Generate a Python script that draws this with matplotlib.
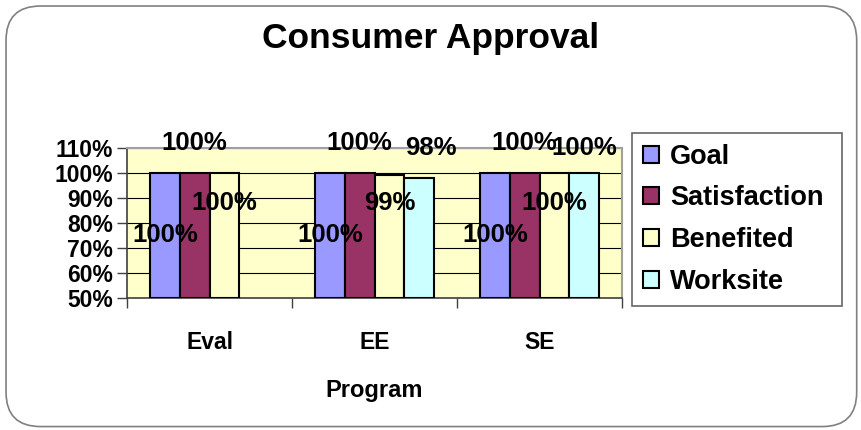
import numpy as np
import matplotlib
matplotlib.use('Agg')
import matplotlib.pyplot as plt
from matplotlib.patches import FancyBboxPatch

plt.rcParams['font.family'] = ['Liberation Sans', 'DejaVu Sans']
plt.rcParams['font.weight'] = 'bold'

# Data
programs = ['Eval', 'EE', 'SE']
series = ['Goal', 'Satisfaction', 'Benefited', 'Worksite']
goal = [100, 100, 100]
satisfaction = [100, 100, 100]
benefited = [100, 99, 100]
worksite = [np.nan, 98, 100]   # no Worksite bar for Eval
colors = ['#9999FF', '#993366', '#FFFFCC', '#CCFFFF']

# where Excel dropped the data labels (value axis, %)
label_y = [75, 112, 88, 110]

fig = plt.figure(figsize=(8.61, 4.30), dpi=100)
fig.patch.set_facecolor('white')

# rounded outer frame
frame = FancyBboxPatch((0.007, 0.008), 0.988, 0.978,
                       boxstyle='round,pad=0,rounding_size=0.04',
                       transform=fig.transFigure, facecolor='none',
                       edgecolor='#808080', linewidth=1.2, mutation_aspect=2.0)
fig.patches.append(frame)

ax = fig.add_axes([0.1475, 0.307, 0.575, 0.349])
ax.set_facecolor('#FFFFCC')

x = np.arange(len(programs))
width = 0.18
values = [goal, satisfaction, benefited, worksite]

for i, (name, vals, col) in enumerate(zip(series, values, colors)):
    offs = (i - 1.5) * width
    ax.bar(x + offs, np.array(vals) - 50, width, bottom=50, color=col,
           edgecolor='black', linewidth=1.5, label=name, zorder=3)
    for xi, v in zip(x, vals):
        if np.isnan(v):
            continue
        dx = 0.07 if (name == 'Worksite' and xi == 1) else 0.0
        ax.text(xi + offs + dx, label_y[i], f'{v:.0f}%', ha='center',
                va='center', fontsize=18.5, fontweight='bold', zorder=5,
                clip_on=False)

ax.set_xlim(-0.5, 2.5)
ax.set_ylim(50, 110)
ax.set_yticks(np.arange(50, 111, 10))
ax.set_yticklabels([f'{t}%' for t in range(50, 111, 10)])
ax.yaxis.grid(True, color='black', linewidth=0.8, zorder=1)
ax.set_axisbelow(True)

ax.set_xticks([-0.5, 0.5, 1.5, 2.5])
ax.set_xticklabels([])
ax.set_xticks(x, minor=True)
ax.set_xticklabels(programs, minor=True)
ax.tick_params(axis='x', which='minor', length=0, pad=24, labelsize=16.5)
ax.tick_params(axis='x', which='major', length=7, width=1, color='#404040',
               direction='out')
ax.tick_params(axis='y', length=7, width=1, color='#404040', labelsize=16.5, pad=3)

for side in ['left', 'bottom']:
    ax.spines[side].set_color('#404040')
    ax.spines[side].set_linewidth(1.2)
for side in ['top', 'right']:
    ax.spines[side].set_color('#a0a0a0')
    ax.spines[side].set_linewidth(1.5)

ax.set_xlabel('Program', fontsize=17, fontweight='bold', labelpad=18)

fig.text(0.5, 0.91, 'Consumer Approval', ha='center', va='center',
         fontsize=25.5, fontweight='bold')

leg = fig.legend(loc='upper left', bbox_to_anchor=(0.734, 0.691, 0.244, 0.0),
                 mode='expand', frameon=True, fancybox=False, fontsize=19.5,
                 handlelength=0.6, handleheight=0.6, handletextpad=0.4,
                 labelspacing=0.58, borderpad=0.4, borderaxespad=0)
leg.get_frame().set_edgecolor('#404040')
leg.get_frame().set_linewidth(1.2)
for h in leg.legend_handles:
    h.set_linewidth(1.5)

fig.savefig('out.png', dpi=100)
